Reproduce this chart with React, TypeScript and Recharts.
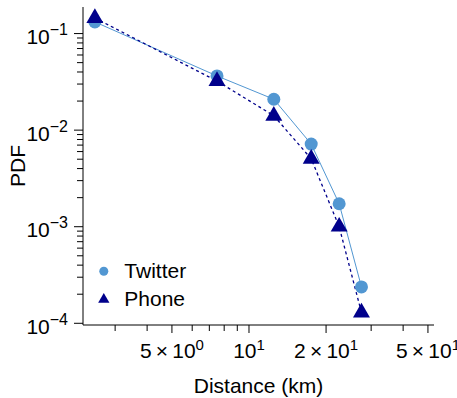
import React from 'react';
import { LineChart, Line, XAxis, YAxis, Legend, Label } from 'recharts';

// bin centres (km) and the two PDFs
const distance = [2.5, 7.5, 12.5, 17.5, 22.5, 27.5];
const twitterPdf = [0.132, 0.0364, 0.0209, 0.00717, 0.00173, 0.000238];
const phonePdf = [0.145, 0.0322, 0.0141, 0.00505, 0.001, 0.000129];

const xMajorTicks = [5, 10, 20, 50];
const xMinorTicks = [3, 4, 6, 7, 8, 9, 30, 40];
const xTickMantissa: Record<number, string> = { 5: '5', 10: '', 20: '2', 50: '5' };
const xTickExponent: Record<number, string> = { 5: '0', 10: '1', 20: '1', 50: '1' };

const yMajorTicks = [1e-4, 1e-3, 1e-2, 1e-1];
const yTickExponent = ['\u22124', '\u22123', '\u22122', '\u22121'];
const yMinorMantissa = [2, 3, 4, 5, 6, 7, 8, 9];
const yMinorDecades = [1e-4, 1e-3, 1e-2];

const TWITTER = '#5297d2';
const PHONE = '#00008b';
const FONT = '"Liberation Sans", Arial, Helvetica, sans-serif';

const data = distance.map((d, i) => ({ distance: d, twitter: twitterPdf[i], phone: phonePdf[i] }));
const yMinorTicks = yMinorDecades.flatMap((dec) => yMinorMantissa.map((m) => +(m * dec).toPrecision(3)));

const XTick = (props: any) => {
  const { x, y, payload } = props;
  const v = payload.value;
  const major = xMajorTicks.includes(v);
  return (
    <g>
      <line x1={x} y1={y} x2={x} y2={y + (major ? 8 : 6)} stroke="#000" strokeWidth={1} />
      {major && (
        <text x={x} y={y + 33} textAnchor="middle" fontSize={21} fontFamily={FONT} fill="#000">
          {xTickMantissa[v] ? xTickMantissa[v] + '\u2009\u00d7\u200910' : '10'}
          <tspan dy={-8} fontSize={15}>{xTickExponent[v]}</tspan>
        </text>
      )}
    </g>
  );
};

const YTick = (props: any) => {
  const { x, y, payload } = props;
  const idx = yMajorTicks.indexOf(payload.value);
  const major = idx >= 0;
  return (
    <g>
      <line x1={x} y1={y} x2={x - (major ? 9 : 6)} y2={y} stroke="#000" strokeWidth={1} />
      {major && (
        <text x={x - 15} y={y + 10.5} textAnchor="end" fontSize={21} fontFamily={FONT} fill="#000">
          10
          <tspan dy={-9} fontSize={16}>{yTickExponent[idx]}</tspan>
        </text>
      )}
    </g>
  );
};

const triangle = (cx: number, cy: number, r: number) =>
  `${cx},${cy - r} ${cx + 0.866 * r},${cy + r / 2} ${cx - 0.866 * r},${cy + r / 2}`;

const TwitterDot = (props: any) => {
  const { cx, cy, index } = props;
  return <circle key={`tw-${index}`} cx={cx} cy={cy} r={6.5} fill={TWITTER} />;
};

const PhoneDot = (props: any) => {
  const { cx, cy, index } = props;
  return <polygon key={`ph-${index}`} points={triangle(cx, cy, 9.8)} fill={PHONE} />;
};

const renderLegend = () => (
  <svg width={150} height={60} style={{ display: 'block' }}>
    <circle cx={13.8} cy={12.2} r={4.5} fill={TWITTER} />
    <text x={34.3} y={19.3} fontSize={21} fontFamily={FONT} fill="#000">Twitter</text>
    <polygon points={triangle(13.8, 40.5, 6.5)} fill={PHONE} />
    <text x={34.3} y={46.7} fontSize={21} fontFamily={FONT} fill="#000">Phone</text>
  </svg>
);

export default function App() {
  return (
    <div style={{ position: 'absolute', left: 0, top: 0, fontFamily: FONT }}>
      <LineChart width={457} height={398} data={data} margin={{ top: 7, right: 23, left: 0, bottom: 0 }}>
        <XAxis
          dataKey="distance"
          type="number"
          scale="log"
          domain={[2.247, 52.8]}
          allowDataOverflow
          ticks={[...xMinorTicks, ...xMajorTicks].sort((a, b) => a - b)}
          interval={0}
          tick={<XTick />}
          tickLine={false}
          tickSize={0}
          tickMargin={0}
          height={73}
          axisLine={{ stroke: '#000', strokeWidth: 1 }}
        >
          <Label
            content={(p: any) => {
              const vb = p.viewBox;
              return (
                <text x={vb.x + vb.width / 2} y={393} textAnchor="middle" fontSize={21} fontFamily={FONT} fill="#000">
                  Distance (km)
                </text>
              );
            }}
          />
        </XAxis>
        <YAxis
          type="number"
          scale="log"
          domain={[9.6e-5, 0.1884]}
          allowDataOverflow
          ticks={[...yMinorTicks, ...yMajorTicks]}
          interval={0}
          tick={<YTick />}
          tickLine={false}
          tickSize={0}
          tickMargin={0}
          width={83}
          axisLine={{ stroke: '#000', strokeWidth: 1 }}
        >
          <Label
            content={(p: any) => {
              const vb = p.viewBox;
              const cy = vb.y + vb.height / 2;
              return (
                <text x={25} y={cy} transform={`rotate(-90 25 ${cy})`} textAnchor="middle" fontSize={21} fontFamily={FONT} fill="#000">
                  PDF
                </text>
              );
            }}
          />
        </YAxis>
        <XAxis xAxisId="top" orientation="top" type="number" domain={[0, 1]} height={0} tick={false} tickLine={false} axisLine={{ stroke: '#666', strokeWidth: 1.5 }} />
        <YAxis yAxisId="right" orientation="right" type="number" domain={[0, 1]} width={0} tick={false} tickLine={false} axisLine={{ stroke: '#666', strokeWidth: 1.5 }} />
        <Legend
          layout="vertical"
          align="center"
          verticalAlign="middle"
          content={renderLegend}
          wrapperStyle={{ left: 90, top: 259, width: 150, height: 60 }}
        />
        <Line
          dataKey="twitter"
          stroke={TWITTER}
          strokeWidth={1}
          dot={TwitterDot}
          activeDot={false}
          isAnimationActive={false}
        />
        <Line
          dataKey="phone"
          stroke={PHONE}
          strokeWidth={1.3}
          strokeDasharray="3 3"
          dot={PhoneDot}
          activeDot={false}
          isAnimationActive={false}
        />
      </LineChart>
    </div>
  );
}
